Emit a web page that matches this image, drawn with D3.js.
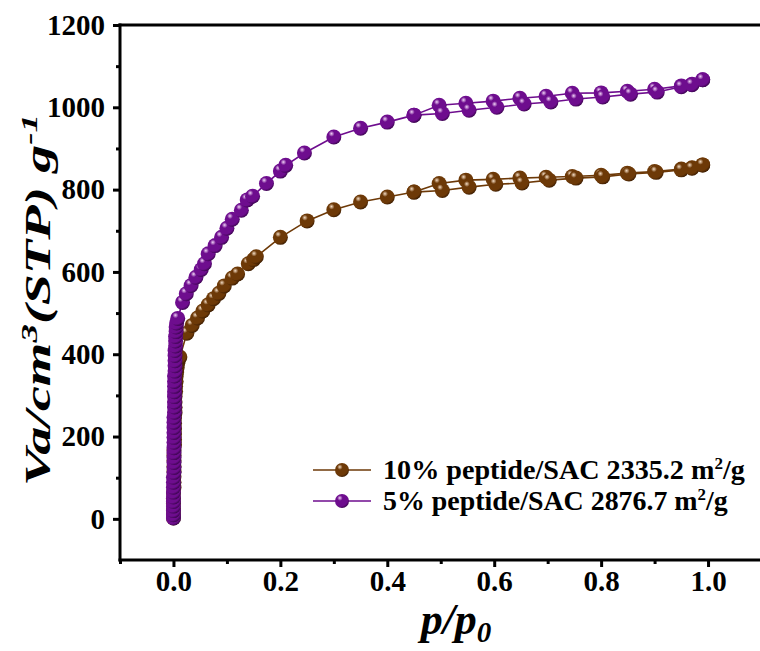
<!DOCTYPE html>
<html><head><meta charset="utf-8">
<script src="https://cdn.jsdelivr.net/npm/d3@7"></script>
<style>body{margin:0;background:#fff}svg{display:block}</style>
</head><body>
<svg id="chart" width="760" height="651"></svg>
<script>
// ---- data ----
const seriesNames = ["10% peptide/SAC 2335.2", "5% peptide/SAC 2876.7"];
const xTicks = [0.0, 0.2, 0.4, 0.6, 0.8, 1.0];
const yTicks = [0, 200, 400, 600, 800, 1000, 1200];

// 10% peptide/SAC — adsorption branch
const ads10P = [0.000,0.000,0.000,0.000,0.000,0.000,0.001,0.001,0.001,0.001,0.001,0.001,0.001,0.001,0.002,0.002,0.002,0.002,0.002,0.002,0.003,0.003,0.003,0.003,0.004,0.004,0.005,0.005,0.006,0.007,0.008,0.009,0.012,
  0.025,0.035,0.045,0.055,0.065,0.075,0.085,0.095,0.110,0.120,0.140,0.150,0.155,0.200,0.250,0.300,0.350,0.400,0.450,0.503,0.553,0.603,0.652,0.703,0.753,0.803,0.852,0.903,0.950,0.970,0.990];
const ads10V = [2,12,24,37,50,63,76,89,102,115,128,141,154,167,180,193,206,219,232,245,258,271,284,297,310,322,334,346,357,368,378,386,393,
  451,470,488,505,520,535,548,566,585,595,620,630,637,684,724,751,770,782,794,798,806,813,816,823,828,831,838,842,848,852,860];
// 10% peptide/SAC — desorption branch
const des10P = [0.990,0.970,0.950,0.900,0.849,0.800,0.746,0.697,0.648,0.598,0.547,0.497,0.450];
const des10V = [860,853,850,844,840,835,832,830,828,825,823,815,794];

// 5% peptide/SAC — adsorption branch
const ads5P = [0.000,0.000,0.000,0.000,0.000,0.000,0.000,0.000,0.000,0.000,0.001,0.001,0.001,0.001,0.001,0.001,0.001,0.001,0.001,0.001,0.001,0.001,0.002,0.002,0.002,0.002,0.002,0.002,0.002,0.002,0.003,0.003,0.003,0.003,0.003,0.004,0.004,0.004,0.005,0.005,0.006,0.008,
  0.017,0.024,0.033,0.042,0.052,0.058,0.065,0.078,0.090,0.100,0.110,0.127,0.138,0.148,0.174,0.200,0.210,0.245,0.300,0.350,0.400,0.450,0.503,0.553,0.605,0.656,0.706,0.753,0.803,0.855,0.905,0.950,0.970,0.990];
const ads5V = [2,10,20,31,42,53,65,77,89,101,113,125,137,149,161,173,186,198,210,222,235,247,259,272,284,297,309,322,334,347,359,372,384,397,409,420,432,443,455,466,476,487,
  526,547,567,587,606,620,644,664,684,706,728,750,775,784,815,845,859,889,928,949,964,981,985,993,1000,1008,1013,1020,1025,1032,1037,1050,1055,1067];
// 5% peptide/SAC — desorption branch
const des5P = [0.990,0.970,0.950,0.900,0.849,0.800,0.746,0.697,0.648,0.598,0.547,0.497,0.450];
const des5V = [1067,1056,1052,1044,1039,1035,1034,1027,1022,1015,1010,1005,981];

// ---- layout ----
const svg = d3.select("#chart");
const M = {left:120, top:25, bottom:560};
const x = d3.scaleLinear().domain([-0.1, 1.1]).range([M.left, M.left + 641.5]);
const y = d3.scaleLinear().domain([-100, 1200]).range([M.bottom, M.top]);
const serif = "'Liberation Serif','Times New Roman',serif";

const colors = [
  {base:"#6d3907", light:"#f3dcc4", dark:"#3e1e02"},
  {base:"#6e0d8e", light:"#f0d2f6", dark:"#3c0450"}
];
const defs = svg.append("defs");
colors.forEach((c,i)=>{
  const g = defs.append("radialGradient").attr("id","sph"+i)
    .attr("cx","0.38").attr("cy","0.32").attr("r","0.7").attr("fx","0.34").attr("fy","0.28");
  g.append("stop").attr("offset","0%").attr("stop-color",c.light);
  g.append("stop").attr("offset","28%").attr("stop-color",c.base);
  g.append("stop").attr("offset","80%").attr("stop-color",c.base);
  g.append("stop").attr("offset","100%").attr("stop-color",c.dark);
});

// axes
const yAxis = d3.axisLeft(y).tickValues(yTicks).tickSize(7).tickFormat(d3.format("d"));
const yMinor = d3.axisLeft(y).tickValues([100,300,500,700,900,1100]).tickSize(4).tickFormat("");
const xAxis = d3.axisBottom(x).tickValues(xTicks).tickSize(7).tickFormat(d3.format(".1f"));
const xMinor = d3.axisBottom(x).tickValues([-0.1,0.1,0.3,0.5,0.7,0.9]).tickSize(4).tickFormat("");

function styleAxis(g){
  g.select(".domain").remove();
  g.selectAll("line").attr("stroke","#000").attr("stroke-width",3);
  g.selectAll("text").attr("font-family",serif).attr("font-weight","bold").attr("font-size",29).attr("fill","#000");
}
svg.append("g").attr("transform",`translate(${M.left},0)`).call(yMinor).call(styleAxis);
svg.append("g").attr("transform",`translate(${M.left},0)`).call(yAxis).call(styleAxis)
  .selectAll("text").attr("x",-15);
svg.append("g").attr("transform",`translate(0,${M.bottom})`).call(xMinor).call(styleAxis);
svg.append("g").attr("transform",`translate(0,${M.bottom})`).call(xAxis).call(styleAxis)
  .selectAll("text").attr("y",10);

// frame
svg.append("line").attr("x1",M.left).attr("x2",M.left).attr("y1",M.top-1.5).attr("y2",M.bottom+1.5).attr("stroke","#000").attr("stroke-width",3);
svg.append("line").attr("x1",M.left-1.5).attr("x2",760).attr("y1",M.bottom).attr("y2",M.bottom).attr("stroke","#000").attr("stroke-width",3);
svg.append("line").attr("x1",M.left-1.5).attr("x2",760).attr("y1",M.top).attr("y2",M.top).attr("stroke","#000").attr("stroke-width",3);

// series
const series = [
  {ads:[ads10P,ads10V], des:[des10P,des10V]},
  {ads:[ads5P,ads5V], des:[des5P,des5V]}
];
const line = d3.line().x(d=>x(d[0])).y(d=>y(d[1]));
const R = 7.5;
series.forEach((s,i)=>{
  const g = svg.append("g");
  const a = s.ads[0].map((p,k)=>[p,s.ads[1][k]]);
  const d = s.des[0].map((p,k)=>[p,s.des[1][k]]);
  [a,d].forEach(pts=>{
    g.append("path").attr("d",line(pts)).attr("fill","none").attr("stroke",colors[i].base).attr("stroke-width",1.6);
  });
  [...d, ...a].forEach(pt=>{
    g.append("circle").attr("cx",x(pt[0])).attr("cy",y(pt[1])).attr("r",R).attr("fill",`url(#sph${i})`);
  });
});

// legend
const leg = svg.append("g");
const legTargetW = [362, 345];
[0,1].forEach(i=>{
  const yy = 470 + i*31;
  leg.append("line").attr("x1",313).attr("x2",371).attr("y1",yy).attr("y2",yy).attr("stroke",colors[i].base).attr("stroke-width",1.6);
  leg.append("circle").attr("cx",342).attr("cy",yy).attr("r",7).attr("fill",`url(#sph${i})`);
  const t = leg.append("text").attr("x",0).attr("y",0).attr("font-family",serif).attr("font-weight","bold").attr("font-size",28).attr("fill","#000");
  t.append("tspan").text(seriesNames[i] + " m");
  t.append("tspan").attr("dy",-10).attr("font-size",17).text("2");
  t.append("tspan").attr("dy",10).text("/g");
  const w = t.node().getBBox().width;
  t.attr("transform", `translate(383,${yy+9}) scale(${legTargetW[i]/w},1)`);
});

// axis titles
const xt = svg.append("text").attr("x",456).attr("y",634).attr("text-anchor","middle")
  .attr("font-family",serif).attr("font-weight","bold").attr("font-style","italic").attr("font-size",44).attr("fill","#000");
xt.append("tspan").text("p/p");
xt.append("tspan").attr("dy",8).attr("font-size",29).text("0");

const ytG = svg.append("g").attr("transform","translate(50,300) rotate(-90)");
const yt = ytG.append("text").attr("text-anchor","middle")
  .attr("font-family",serif).attr("font-weight","bold").attr("font-style","italic").attr("font-size",35).attr("fill","#000");
yt.append("tspan").text("Va/cm");
yt.append("tspan").attr("dy",-13).attr("font-size",23).text("3");
yt.append("tspan").attr("dy",13).text("(STP) g");
yt.append("tspan").attr("dy",-13).attr("font-size",23).text("-1");
// stretch the title along its length to the reference extent
const ytW = yt.node().getBBox().width;
yt.attr("transform", `scale(${372 / ytW},1)`);
</script>
</body></html>
